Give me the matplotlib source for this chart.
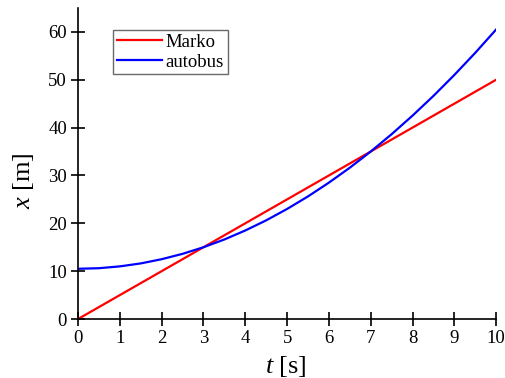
import matplotlib
matplotlib.use("Agg")
import matplotlib.pyplot as plt
import numpy as np

plt.rcParams['font.family'] = ['Liberation Serif', 'DejaVu Serif']
plt.rcParams['mathtext.fontset'] = 'custom'
plt.rcParams['mathtext.it'] = 'Liberation Serif:italic'
plt.rcParams['mathtext.rm'] = 'Liberation Serif'

# values
t_marko = [0, 10]
x_marko = [0, 50]

t_bus = [0, 0.5, 1, 1.5, 2, 2.5, 3, 3.5, 4, 4.5, 5, 5.5, 6, 6.5, 7, 7.5, 8, 8.5, 9, 9.5, 10]
x_bus = [10.5, 10.62, 11.0, 11.62, 12.5, 13.62, 15.0, 16.62, 18.5, 20.62, 23.0,
         25.62, 28.5, 31.62, 35.0, 38.62, 42.5, 46.62, 51.0, 55.62, 60.5]

fig = plt.figure(figsize=(5.05, 3.78), dpi=100)
ax = fig.add_axes([0.1545, 0.156, 0.828, 0.823])

ax.plot(t_marko, x_marko, color='#ff0000', lw=1.6, label='Marko')
ax.plot(t_bus, x_bus, color='#0000ff', lw=1.6, label='autobus')

ax.set_xlim(0, 10)
ax.set_ylim(0, 65)
ax.set_xticks(range(0, 11))
ax.set_yticks(range(0, 61, 10))
ax.spines['top'].set_visible(False)
ax.spines['right'].set_visible(False)
ax.spines['left'].set_linewidth(1.2)
ax.spines['bottom'].set_linewidth(1.2)
ax.tick_params(direction='inout', length=10, width=1.2, labelsize=13.5, pad=3)

ax.set_xlabel(r'$t$ [s]', fontsize=19)
ax.set_ylabel(r'$x$ [m]', fontsize=19)
ax.xaxis.set_label_coords(0.497, -0.112)
ax.yaxis.set_label_coords(-0.1, 0.444)

leg = ax.legend(loc='upper left', bbox_to_anchor=(0.084, 0.93), fontsize=13.5,
                frameon=True, fancybox=False, edgecolor='#444444',
                handlelength=2.4, borderpad=0.2, labelspacing=0.15, handletextpad=0.2,
                borderaxespad=0)
leg.get_frame().set_linewidth(1.0)

fig.savefig('out.png', dpi=100)
